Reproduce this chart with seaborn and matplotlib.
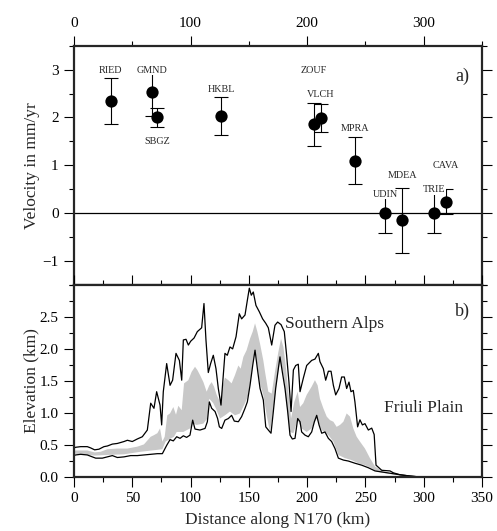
import numpy as np
import pandas as pd
import matplotlib
matplotlib.use("Agg")
import matplotlib.pyplot as plt
from matplotlib.ticker import MultipleLocator
import seaborn as sns

# GPS stations along the profile (panel a)
stations = ["RIED", "GMND", "SBGZ", "HKBL", "ZOUF", "VLCH", "MPRA", "UDIN", "MDEA", "TRIE", "CAVA"]
dist = [31.7, 66.9, 71.5, 126.2, 205.9, 212.0, 241.0, 266.8, 281.7, 309.1, 319.1]
vel = [2.35, 2.53, 2.00, 2.03, 1.86, 1.99, 1.10, 0.00, -0.15, 0.00, 0.24]
sig = [0.48, 0.50, 0.20, 0.39, 0.45, 0.30, 0.50, 0.42, 0.68, 0.42, 0.26]
label_y = [2.99, 2.99, 1.49, 2.58, 2.99, 2.49, 1.78, 0.40, 0.78, 0.49, 0.99]

# topography profile (panel b)
max_km = [0, 1.4, 5.7, 11.4, 14.3, 17.7, 21.4, 25.7, 28.6, 32.9, 37.2, 42.9, 45.8, 50, 54.3,
          58.6, 62.9, 65.8, 68.6, 70.9, 73.8, 75.2, 76.6, 79.5, 82.4, 84.6, 87.5, 90.4, 92.4,
          93.8, 96.1, 98.1, 100.1, 103, 105.8, 109.5, 111.5, 113.2, 115.2, 117.2, 119.5, 121.8,
          123.8, 126.1, 129.5, 131.5, 133.8, 136.1, 139, 141.8, 143.8, 146.7, 148.7, 150.4,
          152.1, 153.8, 156.1, 159, 161.8, 164.5, 166.7, 169.6, 172.4, 174.7, 177.6, 180.4,
          182.4, 184.4, 186.2, 188.2, 190.2, 192.4, 193.9, 196.7, 199.6, 203.9, 206.7, 209.6,
          211, 213.9, 215.9, 218.2, 220.5, 222.5, 224.5, 227.3, 229.6, 231.9, 233.9, 235.9,
          237.6, 239.6, 241, 243.3, 245.3, 247.4, 249.6, 252.5, 255.4, 257.5, 259.1, 264,
          271.1, 274, 279.7, 288.3, 294]
max_elev = [0.45, 0.46, 0.47, 0.47, 0.45, 0.42, 0.43, 0.47, 0.48, 0.51, 0.52, 0.55, 0.57, 0.55,
            0.59, 0.625, 0.73, 1.15, 1.07, 1.33, 1.12, 0.81, 1.33, 1.77, 1.43, 1.51, 1.93, 1.82,
            1.51, 2.14, 2.15, 2.06, 2.12, 2.17, 2.27, 2.33, 2.71, 2.14, 1.63, 1.77, 1.90, 1.69,
            1.38, 1.12, 1.93, 1.90, 2.03, 2.00, 2.19, 2.55, 2.47, 2.53, 2.76, 2.95, 2.84, 2.89,
            2.68, 2.58, 2.47, 2.40, 2.33, 2.06, 2.37, 2.42, 2.38, 2.27, 1.90, 1.48, 1.02, 1.67,
            1.74, 1.76, 1.33, 1.54, 1.74, 1.82, 1.84, 1.93, 1.80, 1.69, 1.51, 1.65, 1.65, 1.43,
            1.28, 1.38, 1.56, 1.56, 1.38, 1.48, 1.33, 1.35, 1.17, 0.78, 0.89, 0.81, 0.83, 0.73,
            0.76, 0.66, 0.18, 0.10, 0.09, 0.06, 0.03, 0.01, 0.0]

min_km = [0, 1.4, 5.7, 11.4, 15.7, 18.6, 24.3, 28.6, 32.9, 37.2, 42.9, 48.6, 54.3, 60, 65.8,
          71.5, 75.8, 79.5, 82.4, 85.2, 88.1, 91, 93.8, 96.6, 99.5, 101.8, 103.8, 108.1, 112.4,
          114.4, 116.1, 118.1, 121, 123.2, 124.7, 126.7, 129.5, 132.4, 135.2, 137.5, 141, 143.8,
          146.7, 148.7, 151, 153.3, 155.3, 157.3, 159.6, 162.4, 164.5, 166.7, 169, 171, 173,
          175.3, 176.7, 178.7, 181, 183.3, 185.3, 187.3, 189.6, 191.9, 193.9, 195.3, 198.2, 201,
          203.9, 206.2, 208.2, 210.2, 212.5, 215.3, 218.2, 221, 223.9, 226.8, 231.1, 235.3,
          241.1, 246.8, 252.5, 258.2, 265.4, 279.7, 288.3, 294]
min_elev = [0.33, 0.34, 0.35, 0.34, 0.31, 0.29, 0.29, 0.31, 0.33, 0.30, 0.31, 0.33, 0.33, 0.34,
            0.35, 0.36, 0.36, 0.49, 0.58, 0.56, 0.625, 0.60, 0.64, 0.615, 0.65, 0.885, 0.745,
            0.73, 0.755, 0.86, 1.17, 1.07, 1.02, 0.91, 0.78, 0.755, 0.885, 0.91, 0.96, 0.87,
            0.86, 0.94, 1.07, 1.17, 1.43, 1.74, 1.98, 1.69, 1.38, 1.20, 0.78, 0.73, 0.68, 1.02,
            1.38, 1.69, 1.875, 1.64, 1.38, 1.02, 0.65, 0.59, 0.60, 0.91, 0.86, 0.70, 0.65, 0.625,
            0.70, 0.86, 0.96, 0.81, 0.68, 0.70, 0.60, 0.55, 0.44, 0.29, 0.26, 0.245, 0.21, 0.18,
            0.14, 0.09, 0.07, 0.03, 0.01, 0.0]

band_hi_km = [0, 11.4, 17.7, 22.9, 28.6, 37.2, 45.8, 54.3, 60, 65.8, 68.6, 71.5, 73.8, 75.8,
              77.8, 80, 82.4, 85.2, 87.5, 89.5, 92.4, 94.4, 98.1, 100.9, 103.8, 105.8, 108.1,
              111, 113.8, 116.1, 118.1, 120.1, 122.4, 125.2, 127.5, 129.5, 132.4, 135.2, 138.1,
              141, 143, 145.3, 148.1, 151, 153.3, 155.3, 157.3, 159.6, 162.4, 163.9, 166.7,
              169.6, 172.4, 175.3, 177.6, 179.6, 181.6, 183.9, 186.2, 189, 191.9, 193.9, 196.7,
              199.6, 203.9, 206.7, 209, 211, 213.9, 216.8, 219.6, 222.5, 225.3, 228.2, 231.1,
              233.9, 236.8, 239.6, 242.5, 245.3, 249.6, 253.9, 258.2, 265, 275, 285, 292]
band_hi = [0.41, 0.41, 0.38, 0.39, 0.43, 0.44, 0.44, 0.47, 0.505, 0.625, 0.65, 0.68, 0.755, 0.55,
           0.625, 0.96, 0.99, 1.09, 0.97, 1.11, 1.04, 1.46, 1.51, 1.64, 1.72, 1.67, 1.59, 1.48,
           1.33, 1.43, 1.48, 1.41, 1.28, 1.17, 1.41, 1.55, 1.51, 1.46, 1.59, 1.74, 1.69, 1.875,
           1.98, 2.16, 2.27, 2.40, 2.27, 2.08, 1.82, 1.64, 1.33, 1.30, 1.64, 1.95, 2.16, 2.03,
           1.74, 1.33, 0.91, 1.17, 1.33, 1.09, 1.15, 1.28, 1.41, 1.51, 1.43, 1.22, 1.07, 0.94,
           0.885, 0.86, 0.78, 0.81, 0.86, 0.99, 0.94, 0.755, 0.625, 0.55, 0.44, 0.29, 0.16, 0.08,
           0.04, 0.01, 0.0]

band_lo_km = [0, 17.7, 28.6, 42.9, 57.2, 71.5, 75.8, 78.6, 85.8, 88.1, 93.8, 99.5, 102.4, 105.2,
              110.9, 114.4, 116.1, 119.5, 122.4, 125.2, 129.5, 133.8, 138.1, 142.4, 146.7, 149.6,
              151.6, 153.8, 155.6, 157.3, 159.6, 162.4, 165.3, 168.1, 171, 173.9, 176.7, 179.6,
              182.4, 185.3, 188.2, 191.9, 195.3, 199.6, 203.9, 208.2, 212.5, 218.2, 222.5, 226.8,
              232.5, 238.2, 243.9, 249.6, 255.4, 259.6, 265, 275, 285, 292]
band_lo = [0.36, 0.33, 0.34, 0.35, 0.39, 0.42, 0.43, 0.55, 0.625, 0.70, 0.70, 0.755, 0.83, 0.81,
           0.83, 0.91, 1.22, 1.15, 1.04, 0.91, 0.96, 1.02, 0.96, 0.99, 1.15, 1.28, 1.51, 1.82,
           1.98, 1.74, 1.46, 1.28, 0.96, 0.70, 1.04, 1.48, 1.82, 1.59, 1.12, 0.70, 0.68, 0.885,
           0.755, 0.70, 0.755, 0.91, 0.73, 0.65, 0.55, 0.34, 0.29, 0.26, 0.21, 0.18, 0.13, 0.08,
           0.06, 0.03, 0.01, 0.0]


sns.set_style("ticks")
plt.rcParams["font.family"] = ["Liberation Serif", "DejaVu Serif"]
plt.rcParams["axes.linewidth"] = 1.6
for ax_name in ("xtick", "ytick"):
    plt.rcParams[f"{ax_name}.major.size"] = 7
    plt.rcParams[f"{ax_name}.minor.size"] = 3.5
    plt.rcParams[f"{ax_name}.major.width"] = 0.8
    plt.rcParams[f"{ax_name}.minor.width"] = 0.8
    plt.rcParams[f"{ax_name}.major.pad"] = 4
    plt.rcParams[f"{ax_name}.labelsize"] = 11
    plt.rcParams[f"{ax_name}.color"] = "black"

fig = plt.figure(figsize=(4.97, 5.31), dpi=100)
ax1 = fig.add_axes([0.1489, 0.4633, 0.8209, 0.4506])
ax2 = fig.add_axes([0.1489, 0.1023, 0.8209, 0.3610])

# ---- panel a: velocities
gps = pd.DataFrame({"station": stations, "dist": dist, "vel": vel, "sig": sig})
ax1.axhline(0, color="black", lw=0.9, zorder=1)
ax1.errorbar(gps["dist"], gps["vel"], yerr=gps["sig"], fmt="none", ecolor="black",
             elinewidth=0.8, capsize=4.7, capthick=0.8, zorder=2)
sns.scatterplot(data=gps, x="dist", y="vel", ax=ax1, color="black", s=78,
                edgecolor="black", linewidth=0, zorder=3, legend=False)
# labels sit on a white box so they hide the top of some error bars
for name, x, ly in zip(stations, dist, label_y):
    ax1.text(x, ly, name, fontsize=7.3, ha="center", va="center", zorder=4,
             bbox=dict(facecolor="white", edgecolor="none", pad=0.6))
ax1.text(339, 2.85, "a)", fontsize=13, ha="right", va="center")

ax1.set_xlim(0, 350)
ax1.set_ylim(-1.5, 3.5)
ax1.xaxis.tick_top()
ax1.xaxis.set_major_locator(MultipleLocator(100))
ax1.xaxis.set_minor_locator(MultipleLocator(50))
ax1.yaxis.set_major_locator(MultipleLocator(1))
ax1.yaxis.set_minor_locator(MultipleLocator(0.5))
ax1.tick_params(which="both", direction="out", top=True, bottom=False,
                left=True, right=True, labeltop=True, labelbottom=False)
ax1.set_xlabel("")
ax1.set_ylabel("Velocity in mm/yr", fontsize=12.5, labelpad=2)

# ---- panel b: topography
ax2.fill(np.r_[band_hi_km, band_lo_km[::-1]], np.r_[band_hi, band_lo[::-1]],
         color="#c8c8c8", lw=0, zorder=1)
sns.lineplot(x=max_km, y=max_elev, ax=ax2, color="black", lw=0.9, estimator=None, zorder=2)
sns.lineplot(x=min_km, y=min_elev, ax=ax2, color="black", lw=0.9, estimator=None, zorder=2)
ax2.text(181, 2.39, "Southern Alps", fontsize=12.5, ha="left", va="center")
ax2.text(266, 1.08, "Friuli Plain", fontsize=12.5, ha="left", va="center")
ax2.text(339.5, 2.58, "b)", fontsize=13, ha="right", va="center")

ax2.set_xlim(0, 350)
ax2.set_ylim(0, 3.0)
ax2.xaxis.set_major_locator(MultipleLocator(50))
ax2.xaxis.set_minor_locator(MultipleLocator(25))
ax2.yaxis.set_major_locator(MultipleLocator(0.5))
ax2.yaxis.set_minor_locator(MultipleLocator(0.25))
ax2.tick_params(which="both", direction="out", top=True, bottom=True,
                left=True, right=True, labeltop=False)
ax2.set_yticks([0, 0.5, 1.0, 1.5, 2.0, 2.5])
ax2.set_yticklabels(["0.0", "0.5", "1.0", "1.5", "2.0", "2.5"])
ax2.set_xlabel("Distance along N170 (km)", fontsize=12.5, labelpad=5)
ax2.set_ylabel("Elevation (km)", fontsize=12.5, labelpad=0)

fig.savefig("out.png", dpi=100)
